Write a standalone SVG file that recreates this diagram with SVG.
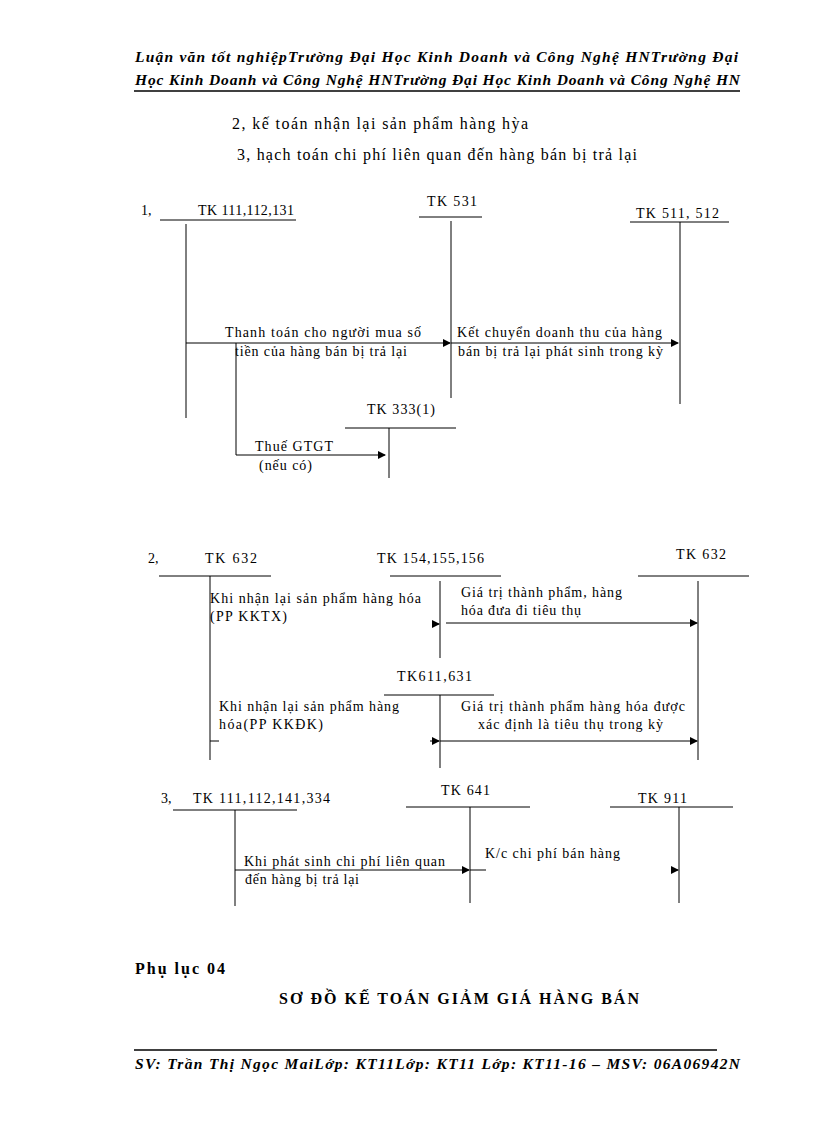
<svg xmlns="http://www.w3.org/2000/svg" width="816" height="1123" viewBox="0 0 816 1123" font-family="'Liberation Serif','DejaVu Serif',serif">
<defs>
<style>
text{font-family:"Liberation Serif","DejaVu Serif",serif;fill:#000}
.h{font-size:15.5px;font-style:italic;font-weight:bold}
.t{font-size:16px}
.s{font-size:14px}
.b{font-size:16px;font-weight:bold}
line,polyline{stroke:#000;stroke-width:1;fill:none}
</style>
<marker id="a" markerWidth="8" markerHeight="8" refX="7" refY="4" orient="auto" markerUnits="userSpaceOnUse"><path d="M0,0 L8,4 L0,8 Z" fill="#000"/></marker>
</defs>
<rect width="816" height="1123" fill="#fff"/>
<text class="h" x="135" y="62" textLength="603" lengthAdjust="spacing">Luận văn tốt nghiệpTrường Đại Học Kinh Doanh và Công Nghệ HNTrường Đại</text>
<text class="h" x="135" y="85" textLength="605" lengthAdjust="spacing">Học Kinh Doanh và Công Nghệ HNTrường Đại Học Kinh Doanh và Công Nghệ HN</text>
<line x1="134" y1="91" x2="740" y2="91" style="stroke-width:1.5"/>
<text class="t" x="232" y="129" textLength="296" lengthAdjust="spacing">2, kế toán nhận lại  sản phẩm hàng hỳa</text>
<text class="t" x="237" y="160" textLength="400" lengthAdjust="spacing">3, hạch toán chi phí liên  quan đến hàng bán bị trả lại</text>

<g id="sec1">
<text class="s" x="141" y="215">1,</text>
<g id="tk111"><text class="s" x="198" y="215" textLength="96" lengthAdjust="spacing">TK 111,112,131</text><line x1="160" y1="220" x2="296" y2="220"/><line x1="186" y1="224" x2="186" y2="418"/></g>
<g id="tk531"><text class="s" x="427" y="206" textLength="50" lengthAdjust="spacing">TK 531</text><line x1="419" y1="217" x2="482" y2="217"/><line x1="451" y1="221" x2="451" y2="398"/></g>
<g id="tk511"><text class="s" x="636" y="218" textLength="83" lengthAdjust="spacing">TK 511, 512</text><line x1="630" y1="222" x2="729" y2="222"/><line x1="680" y1="222" x2="680" y2="404"/></g>
<g id="tk333"><text class="s" x="367" y="414" textLength="68" lengthAdjust="spacing">TK 333(1)</text><line x1="345" y1="428" x2="456" y2="428"/><line x1="389" y1="428" x2="389" y2="478"/></g>
<text class="s" x="225" y="337" textLength="196" lengthAdjust="spacing">Thanh  toán cho người  mua  số</text>
<text class="s" x="235" y="356" textLength="172" lengthAdjust="spacing">tiền  của  hàng  bán  bị  trả  lại</text>
<text class="s" x="457" y="337" textLength="205" lengthAdjust="spacing">Kết chuyển  doanh thu  của  hàng</text>
<text class="s" x="458" y="356" textLength="205" lengthAdjust="spacing">bán  bị  trả  lại  phát  sinh  trong  kỳ</text>
<text class="s" x="255" y="451" textLength="78" lengthAdjust="spacing">Thuế  GTGT</text>
<text class="s" x="259" y="470" textLength="53" lengthAdjust="spacing">(nếu  có)</text>
</g>

<g id="sec2">
<text class="s" x="148" y="563">2,</text>
<g id="tk632a"><text class="s" x="205" y="563" textLength="52" lengthAdjust="spacing">TK 632</text><line x1="159" y1="576" x2="271" y2="576"/><line x1="210" y1="576" x2="210" y2="760"/></g>
<g id="tk154"><text class="s" x="377" y="563" textLength="107" lengthAdjust="spacing">TK 154,155,156</text><line x1="390" y1="576" x2="501" y2="576"/><line x1="440" y1="581" x2="440" y2="658"/></g>
<g id="tk632b"><text class="s" x="676" y="559" textLength="50" lengthAdjust="spacing">TK 632</text><line x1="638" y1="576" x2="749" y2="576"/><line x1="698" y1="581" x2="698" y2="760"/></g>
<g id="tk611"><text class="s" x="397" y="681" textLength="75" lengthAdjust="spacing">TK611,631</text><line x1="384" y1="695" x2="494" y2="695"/><line x1="440" y1="695" x2="440" y2="768"/></g>
<text class="s" x="210" y="603" textLength="211" lengthAdjust="spacing">Khi nhận  lại  sản  phẩm  hàng  hóa</text>
<text class="s" x="210" y="621" textLength="77" lengthAdjust="spacing">(PP KKTX)</text>
<text class="s" x="461" y="597" textLength="161" lengthAdjust="spacing">Giá  trị  thành  phẩm,  hàng</text>
<text class="s" x="461" y="615" textLength="120" lengthAdjust="spacing">hóa đưa đi tiêu  thụ</text>
<text class="s" x="219" y="711" textLength="180" lengthAdjust="spacing">Khi nhận  lại  sản  phẩm  hàng</text>
<text class="s" x="219" y="729" textLength="104" lengthAdjust="spacing">hóa(PP KKĐK)</text>
<text class="s" x="461" y="711" textLength="224" lengthAdjust="spacing">Giá  trị  thành  phẩm  hàng  hóa  được</text>
<text class="s" x="478" y="729" textLength="185" lengthAdjust="spacing">xác  định  là  tiêu  thụ  trong  kỳ</text>
<line x1="210" y1="741" x2="219" y2="741"/>
</g>

<g id="sec3">
<text class="s" x="161" y="803">3,</text>
<g id="tk111b"><text class="s" x="193" y="803" textLength="137" lengthAdjust="spacing">TK 111,112,141,334</text><line x1="173" y1="810" x2="297" y2="810"/><line x1="235" y1="810" x2="235" y2="906"/></g>
<g id="tk641"><text class="s" x="441" y="795" textLength="49" lengthAdjust="spacing">TK 641</text><line x1="406" y1="807" x2="530" y2="807"/><line x1="470" y1="807" x2="470" y2="903"/></g>
<g id="tk911"><text class="s" x="638" y="803" textLength="49" lengthAdjust="spacing">TK 911</text><line x1="610" y1="807" x2="733" y2="807"/><line x1="679" y1="807" x2="679" y2="903"/></g>
<text class="s" x="244" y="866" textLength="201" lengthAdjust="spacing">Khi phát sinh  chi  phí  liên  quan</text>
<text class="s" x="245" y="884" textLength="114" lengthAdjust="spacing">đến hàng  bị  trả  lại</text>
<text class="s" x="485" y="858" textLength="135" lengthAdjust="spacing">K/c chi  phí  bán  hàng</text>
</g>

<g id="connectors">
<line x1="186" y1="343" x2="450" y2="343" marker-end="url(#a)"/>
<line x1="451" y1="343" x2="678" y2="343" marker-end="url(#a)"/>
<polyline points="236,343 236,455 385,455" marker-end="url(#a)"/>
<line x1="432" y1="624" x2="439" y2="624" marker-end="url(#a)"/>
<line x1="446" y1="623" x2="697" y2="623" marker-end="url(#a)"/>
<line x1="430" y1="741" x2="439" y2="741" marker-end="url(#a)"/>
<line x1="440" y1="741" x2="697" y2="741" marker-end="url(#a)"/>
<line x1="235" y1="870" x2="469" y2="870" marker-end="url(#a)"/>
<line x1="470" y1="870" x2="486" y2="870"/>
<line x1="671" y1="870" x2="678" y2="870" marker-end="url(#a)"/>
</g>

<text class="b" x="135" y="974" textLength="90" lengthAdjust="spacing">Phụ lục 04</text>
<text class="b" x="279" y="1004" textLength="360" lengthAdjust="spacing">SƠ ĐỒ KẾ TOÁN GIẢM GIÁ HÀNG BÁN</text>
<line x1="134" y1="1050" x2="717" y2="1050" style="stroke-width:1.5"/>
<text class="h" x="135" y="1069" textLength="605" lengthAdjust="spacing">SV: Trần Thị Ngọc MaiLớp: KT11Lớp: KT11  Lớp: KT11-16 – MSV: 06A06942N</text>
</svg>
